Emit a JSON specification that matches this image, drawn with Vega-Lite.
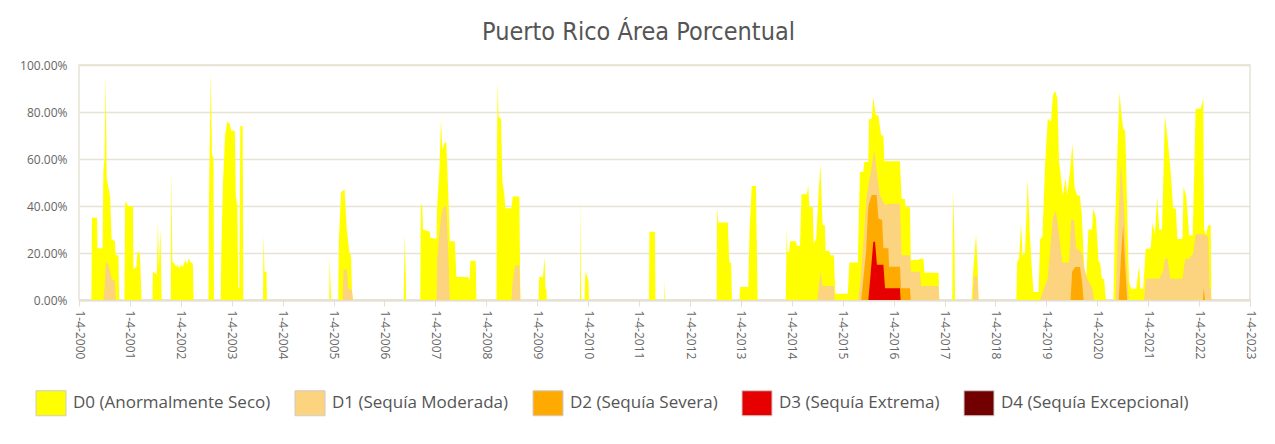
{
"$schema": "https://vega.github.io/schema/vega-lite/v6.json",
"width": 1171, "height": 235,
"autosize": {"type": "none"},
"padding": {"left": 79, "top": 65, "right": 25, "bottom": 144},
"background": "white",
"title": {"text": "Puerto Rico Área Porcentual", "font": "DejaVu Sans Condensed, Liberation Sans Narrow, sans-serif", "fontSize": 25, "fontWeight": "normal", "color": "#555555", "anchor": "middle", "frame": "group", "dx": -26, "offset": 14},
"datasets": {
"D0": [
{"d":"2000-06-29","v":0},{"d":"2000-07-03","v":35},{"d":"2000-08-08","v":35},{"d":"2000-08-12","v":22},{"d":"2000-09-17","v":22},{"d":"2000-09-23","v":55},{"d":"2000-10-01","v":60},{"d":"2000-10-10","v":95.6},{"d":"2000-10-17","v":52},{"d":"2000-10-29","v":48},{"d":"2000-11-10","v":44},{"d":"2000-11-21","v":26},{"d":"2000-12-15","v":25},{"d":"2000-12-20","v":19},{"d":"2001-01-09","v":19},{"d":"2001-01-14","v":0},
{"d":"2001-02-21","v":0},{"d":"2001-02-26","v":42},{"d":"2001-03-20","v":40},{"d":"2001-04-23","v":40},{"d":"2001-04-26","v":13.3},{"d":"2001-05-18","v":14},{"d":"2001-05-25","v":20.4},{"d":"2001-06-12","v":20},{"d":"2001-06-24","v":0},
{"d":"2001-09-10","v":0},{"d":"2001-09-13","v":12},{"d":"2001-10-12","v":11},{"d":"2001-10-19","v":34},{"d":"2001-10-26","v":14},{"d":"2001-11-06","v":30},{"d":"2001-11-15","v":0},
{"d":"2002-01-19","v":0},{"d":"2002-01-23","v":56},{"d":"2002-01-31","v":16},{"d":"2002-02-09","v":16},{"d":"2002-02-19","v":15},{"d":"2002-03-01","v":14},{"d":"2002-03-11","v":15},{"d":"2002-03-22","v":13.5},{"d":"2002-04-02","v":15},{"d":"2002-04-16","v":14},{"d":"2002-04-27","v":16},{"d":"2002-05-08","v":17},{"d":"2002-05-18","v":15},{"d":"2002-05-29","v":18},{"d":"2002-06-09","v":16},{"d":"2002-06-20","v":16},{"d":"2002-06-27","v":15},{"d":"2002-07-02","v":0},
{"d":"2002-10-17","v":0},{"d":"2002-10-20","v":40},{"d":"2002-11-02","v":97},{"d":"2002-11-11","v":62},{"d":"2002-11-22","v":60},{"d":"2002-11-25","v":0},
{"d":"2003-01-13","v":0},{"d":"2003-01-17","v":20},{"d":"2003-01-29","v":50},{"d":"2003-02-13","v":70},{"d":"2003-03-01","v":76},{"d":"2003-03-19","v":75},{"d":"2003-03-29","v":72},{"d":"2003-04-24","v":72},{"d":"2003-05-01","v":44},{"d":"2003-05-12","v":40},{"d":"2003-05-18","v":5},{"d":"2003-05-26","v":5},{"d":"2003-06-02","v":74},{"d":"2003-06-19","v":74},{"d":"2003-06-24","v":0},
{"d":"2003-11-12","v":0},{"d":"2003-11-15","v":28},{"d":"2003-11-23","v":12},{"d":"2003-12-07","v":12},{"d":"2003-12-10","v":0},
{"d":"2005-03-01","v":0},{"d":"2005-03-04","v":17.6},{"d":"2005-03-11","v":6},{"d":"2005-03-14","v":0},
{"d":"2005-05-05","v":0},{"d":"2005-05-09","v":25},{"d":"2005-05-25","v":46},{"d":"2005-06-19","v":47},{"d":"2005-07-05","v":30},{"d":"2005-07-24","v":20},{"d":"2005-08-04","v":19},{"d":"2005-08-11","v":4},{"d":"2005-08-18","v":0},
{"d":"2006-08-17","v":0},{"d":"2006-08-24","v":28},{"d":"2006-09-01","v":10},{"d":"2006-09-04","v":0},
{"d":"2006-12-14","v":0},{"d":"2006-12-18","v":41},{"d":"2006-12-28","v":40},{"d":"2007-01-03","v":30},{"d":"2007-02-20","v":29},{"d":"2007-02-26","v":26.5},{"d":"2007-04-10","v":26},{"d":"2007-04-14","v":40},{"d":"2007-04-30","v":55},{"d":"2007-05-12","v":77},{"d":"2007-05-21","v":64},{"d":"2007-06-06","v":67},{"d":"2007-06-19","v":67},{"d":"2007-07-03","v":45},{"d":"2007-07-14","v":25},{"d":"2007-08-19","v":25},{"d":"2007-08-30","v":9.8},{"d":"2007-11-23","v":9.8},{"d":"2007-12-02","v":8},{"d":"2007-12-09","v":16.7},{"d":"2008-01-16","v":16.7},{"d":"2008-01-21","v":0},
{"d":"2008-06-13","v":0},{"d":"2008-06-16","v":60},{"d":"2008-06-21","v":93},{"d":"2008-06-28","v":78},{"d":"2008-07-15","v":77},{"d":"2008-07-26","v":50},{"d":"2008-08-08","v":45},{"d":"2008-08-15","v":39},{"d":"2008-09-28","v":39},{"d":"2008-10-07","v":44},{"d":"2008-11-24","v":44},{"d":"2008-12-01","v":0},
{"d":"2009-04-11","v":0},{"d":"2009-04-15","v":9.8},{"d":"2009-05-12","v":9.8},{"d":"2009-05-24","v":18.3},{"d":"2009-05-30","v":4.8},{"d":"2009-06-06","v":4.8},{"d":"2009-06-09","v":0},
{"d":"2010-02-02","v":0},{"d":"2010-02-05","v":44.5},{"d":"2010-02-09","v":8},{"d":"2010-02-11","v":0},{"d":"2010-03-07","v":0},{"d":"2010-03-11","v":9.8},{"d":"2010-03-16","v":12},{"d":"2010-04-04","v":8},{"d":"2010-04-07","v":0},
{"d":"2011-06-12","v":0},{"d":"2011-06-15","v":29},{"d":"2011-07-24","v":29},{"d":"2011-07-28","v":0},{"d":"2011-09-27","v":0},{"d":"2011-09-30","v":8.4},{"d":"2011-10-03","v":0},
{"d":"2012-10-09","v":0},{"d":"2012-10-12","v":39},{"d":"2012-10-21","v":33},{"d":"2012-12-28","v":33},{"d":"2013-01-08","v":16},{"d":"2013-01-21","v":16},{"d":"2013-01-27","v":0},
{"d":"2013-03-22","v":0},{"d":"2013-03-25","v":5.5},{"d":"2013-05-24","v":5.5},{"d":"2013-06-02","v":29},{"d":"2013-06-18","v":48.5},{"d":"2013-07-18","v":48.5},{"d":"2013-07-30","v":0},
{"d":"2014-02-17","v":0},{"d":"2014-02-24","v":31},{"d":"2014-03-01","v":20.4},{"d":"2014-03-12","v":20.4},{"d":"2014-03-21","v":25},{"d":"2014-05-01","v":25},{"d":"2014-05-08","v":23},{"d":"2014-05-30","v":23},{"d":"2014-06-10","v":45},{"d":"2014-07-19","v":45},{"d":"2014-07-28","v":48.8},{"d":"2014-08-05","v":39.6},{"d":"2014-08-29","v":39.6},{"d":"2014-09-05","v":24},{"d":"2014-09-23","v":26},{"d":"2014-10-10","v":45},{"d":"2014-10-23","v":58},{"d":"2014-11-08","v":32},{"d":"2014-11-24","v":31.8},{"d":"2014-11-30","v":21},{"d":"2014-12-27","v":21},{"d":"2015-01-02","v":19},{"d":"2015-01-28","v":19},{"d":"2015-02-07","v":2.7},{"d":"2015-05-08","v":2.7},{"d":"2015-05-19","v":16},{"d":"2015-07-19","v":16},
{"d":"2015-07-26","v":35},{"d":"2015-08-03","v":54.5},{"d":"2015-08-27","v":54.5},{"d":"2015-09-04","v":58.7},{"d":"2015-10-02","v":58.7},{"d":"2015-10-07","v":77},{"d":"2015-10-26","v":77},{"d":"2015-11-07","v":86.4},{"d":"2015-11-24","v":78.6},{"d":"2015-12-13","v":78.6},{"d":"2016-01-02","v":70},{"d":"2016-01-18","v":70},{"d":"2016-01-25","v":59},{"d":"2016-05-16","v":59},{"d":"2016-05-28","v":43},{"d":"2016-06-21","v":43},{"d":"2016-06-26","v":39.6},{"d":"2016-07-27","v":39.6},{"d":"2016-08-02","v":17},{"d":"2016-09-26","v":17},{"d":"2016-10-07","v":17.6},{"d":"2016-11-01","v":17.6},{"d":"2016-11-08","v":11.6},{"d":"2017-02-17","v":11.6},{"d":"2017-02-22","v":0},
{"d":"2017-05-26","v":0},{"d":"2017-05-30","v":30},{"d":"2017-06-04","v":46},{"d":"2017-06-12","v":20},{"d":"2017-06-15","v":0},
{"d":"2017-10-12","v":0},{"d":"2017-10-23","v":12},{"d":"2017-11-13","v":28},{"d":"2017-11-24","v":15},{"d":"2017-12-01","v":0},
{"d":"2018-08-29","v":0},{"d":"2018-09-04","v":16},{"d":"2018-09-18","v":18},{"d":"2018-10-02","v":32.5},{"d":"2018-10-12","v":19},{"d":"2018-10-30","v":20},{"d":"2018-11-19","v":51.6},{"d":"2018-12-02","v":30},{"d":"2018-12-16","v":15},{"d":"2018-12-30","v":3.4},{"d":"2019-02-04","v":3.4},{"d":"2019-02-16","v":26},{"d":"2019-03-04","v":27},{"d":"2019-03-22","v":56},{"d":"2019-04-11","v":77},{"d":"2019-05-04","v":76},{"d":"2019-05-18","v":87},{"d":"2019-06-02","v":89},{"d":"2019-06-19","v":86},{"d":"2019-07-01","v":59.4},{"d":"2019-07-15","v":52},{"d":"2019-07-29","v":44.5},{"d":"2019-08-17","v":52},{"d":"2019-08-29","v":44.5},{"d":"2019-09-18","v":55},{"d":"2019-10-05","v":66.5},{"d":"2019-10-20","v":48},{"d":"2019-11-08","v":44.5},{"d":"2019-11-27","v":44.5},{"d":"2019-12-10","v":37.4},{"d":"2019-12-24","v":20},{"d":"2020-01-01","v":10.5},{"d":"2020-01-14","v":10.5},{"d":"2020-01-28","v":30},{"d":"2020-02-22","v":30},{"d":"2020-03-03","v":38.9},{"d":"2020-03-22","v":35},{"d":"2020-04-10","v":16},{"d":"2020-04-21","v":16},{"d":"2020-05-03","v":9},{"d":"2020-05-19","v":9},{"d":"2020-06-01","v":0},
{"d":"2020-07-26","v":0},{"d":"2020-08-03","v":26},{"d":"2020-08-21","v":60},{"d":"2020-09-07","v":88.5},{"d":"2020-09-19","v":80},{"d":"2020-10-03","v":73},{"d":"2020-10-17","v":72},{"d":"2020-10-24","v":60},{"d":"2020-11-08","v":20},{"d":"2020-11-15","v":7.7},{"d":"2020-11-30","v":4.8},{"d":"2021-01-05","v":4.8},{"d":"2021-01-19","v":12},{"d":"2021-01-26","v":14},{"d":"2021-02-03","v":4.8},{"d":"2021-02-24","v":4.8},{"d":"2021-03-14","v":21.8},{"d":"2021-04-19","v":21.8},{"d":"2021-05-02","v":33},{"d":"2021-05-19","v":28},{"d":"2021-06-05","v":43.8},{"d":"2021-06-18","v":30},{"d":"2021-07-09","v":30},{"d":"2021-07-30","v":78.6},{"d":"2021-08-18","v":68.6},{"d":"2021-09-09","v":54.5},{"d":"2021-09-27","v":38.9},{"d":"2021-10-16","v":38.9},{"d":"2021-10-27","v":26},{"d":"2021-12-03","v":26},{"d":"2021-12-10","v":48},{"d":"2021-12-29","v":44.5},{"d":"2022-01-20","v":27.5},{"d":"2022-02-14","v":27.5},{"d":"2022-03-07","v":81.4},{"d":"2022-04-13","v":81.4},{"d":"2022-05-01","v":86},{"d":"2022-05-06","v":30},{"d":"2022-05-20","v":28},{"d":"2022-06-06","v":31.8},{"d":"2022-06-23","v":31.8},{"d":"2022-06-28","v":0}
],
"D1": [
{"d":"2000-09-23","v":0},{"d":"2000-10-01","v":5},{"d":"2000-10-10","v":16},{"d":"2000-10-17","v":16},{"d":"2000-10-29","v":15},{"d":"2000-11-10","v":12},{"d":"2000-11-21","v":9},{"d":"2000-12-15","v":8},{"d":"2000-12-20","v":0},
{"d":"2005-06-05","v":0},{"d":"2005-06-12","v":13},{"d":"2005-07-05","v":13},{"d":"2005-07-16","v":5},{"d":"2005-08-11","v":4},{"d":"2005-08-18","v":0},
{"d":"2007-04-10","v":0},{"d":"2007-04-14","v":17},{"d":"2007-04-30","v":28},{"d":"2007-05-12","v":35},{"d":"2007-05-21","v":38},{"d":"2007-06-06","v":40},{"d":"2007-06-19","v":40},{"d":"2007-07-03","v":20},{"d":"2007-07-14","v":0},
{"d":"2008-09-28","v":0},{"d":"2008-10-07","v":8},{"d":"2008-10-24","v":14.7},{"d":"2008-11-24","v":14.7},{"d":"2008-12-01","v":0},
{"d":"2014-09-30","v":0},{"d":"2014-10-17","v":8},{"d":"2014-10-23","v":12},{"d":"2014-11-08","v":6},{"d":"2015-01-28","v":6},{"d":"2015-02-03","v":0},
{"d":"2015-07-23","v":0},{"d":"2015-08-10","v":10},{"d":"2015-09-21","v":44.7},{"d":"2015-10-07","v":50},{"d":"2015-11-14","v":63.7},{"d":"2015-12-01","v":55},{"d":"2015-12-24","v":44.7},{"d":"2016-01-30","v":40.4},{"d":"2016-03-05","v":41},{"d":"2016-05-16","v":41},{"d":"2016-05-28","v":19},{"d":"2016-07-27","v":19},{"d":"2016-08-02","v":12},{"d":"2016-10-07","v":12},{"d":"2016-10-14","v":6},{"d":"2017-02-17","v":6},{"d":"2017-02-22","v":0},
{"d":"2017-10-20","v":0},{"d":"2017-10-29","v":10},{"d":"2017-11-21","v":10},{"d":"2017-12-01","v":0},
{"d":"2019-02-16","v":0},{"d":"2019-03-14","v":5},{"d":"2019-04-11","v":9},{"d":"2019-04-27","v":20},{"d":"2019-05-18","v":35},{"d":"2019-06-09","v":38},{"d":"2019-07-01","v":28},{"d":"2019-07-24","v":16},{"d":"2019-09-11","v":16},{"d":"2019-09-26","v":34},{"d":"2019-10-17","v":34},{"d":"2019-11-01","v":22},{"d":"2019-12-15","v":20},{"d":"2019-12-24","v":15},{"d":"2020-01-14","v":10},{"d":"2020-01-28","v":8},{"d":"2020-02-24","v":5},{"d":"2020-03-08","v":0},
{"d":"2020-08-10","v":0},{"d":"2020-08-28","v":30},{"d":"2020-09-17","v":58.7},{"d":"2020-10-03","v":45},{"d":"2020-10-17","v":30},{"d":"2020-11-01","v":10},{"d":"2020-11-12","v":0},
{"d":"2021-03-02","v":0},{"d":"2021-03-16","v":9},{"d":"2021-06-18","v":9},{"d":"2021-07-16","v":12},{"d":"2021-07-30","v":17.6},{"d":"2021-08-18","v":17.6},{"d":"2021-09-05","v":9},{"d":"2021-12-03","v":9},{"d":"2021-12-22","v":17.6},{"d":"2022-01-20","v":17.6},{"d":"2022-02-18","v":20},{"d":"2022-03-07","v":28},{"d":"2022-05-06","v":28},{"d":"2022-06-06","v":27},{"d":"2022-06-15","v":5},{"d":"2022-06-23","v":5},{"d":"2022-06-28","v":0}
],
"D2": [
{"d":"2015-08-12","v":0},{"d":"2015-09-15","v":20},{"d":"2015-10-02","v":40},{"d":"2015-10-26","v":44.7},{"d":"2015-12-01","v":44.7},{"d":"2015-12-13","v":34.7},{"d":"2016-01-09","v":34},{"d":"2016-01-18","v":22},{"d":"2016-02-23","v":22},{"d":"2016-02-28","v":14.2},{"d":"2016-05-16","v":14.2},{"d":"2016-05-23","v":5},{"d":"2016-07-27","v":5},{"d":"2016-08-02","v":0},
{"d":"2019-09-22","v":0},{"d":"2019-10-03","v":12},{"d":"2019-10-24","v":14},{"d":"2019-11-29","v":14},{"d":"2019-12-13","v":8},{"d":"2019-12-24","v":0},
{"d":"2020-09-01","v":0},{"d":"2020-09-19","v":20},{"d":"2020-10-03","v":31.8},{"d":"2020-10-17","v":15},{"d":"2020-11-01","v":0},
{"d":"2022-04-28","v":0},{"d":"2022-05-05","v":5},{"d":"2022-05-13","v":0}
],
"D3": [
{"d":"2015-10-02","v":0},{"d":"2015-10-17","v":10},{"d":"2015-11-07","v":24.8},{"d":"2015-11-19","v":24.8},{"d":"2015-12-03","v":15},{"d":"2016-01-18","v":15},{"d":"2016-01-30","v":5},{"d":"2016-05-16","v":5},{"d":"2016-05-21","v":0}
]
},
"encoding": {
"x": {"field": "d", "type": "temporal",
 "scale": {"domain": [{"year":2000,"month":4,"date":1,"utc":true},{"year":2023,"month":4,"date":1,"utc":true}]},
 "axis": {"title": null, "grid": false, "labelAngle": 90, "labelAlign": "left", "labelBaseline": "middle", "labelExpr": "utcFormat(datum.value, '%-d-%-m-%Y')",
  "values": [{"year":2000,"month":4,"date":1,"utc":true},{"year":2001,"month":4,"date":1,"utc":true},{"year":2002,"month":4,"date":1,"utc":true},{"year":2003,"month":4,"date":1,"utc":true},{"year":2004,"month":4,"date":1,"utc":true},{"year":2005,"month":4,"date":1,"utc":true},{"year":2006,"month":4,"date":1,"utc":true},{"year":2007,"month":4,"date":1,"utc":true},{"year":2008,"month":4,"date":1,"utc":true},{"year":2009,"month":4,"date":1,"utc":true},{"year":2010,"month":4,"date":1,"utc":true},{"year":2011,"month":4,"date":1,"utc":true},{"year":2012,"month":4,"date":1,"utc":true},{"year":2013,"month":4,"date":1,"utc":true},{"year":2014,"month":4,"date":1,"utc":true},{"year":2015,"month":4,"date":1,"utc":true},{"year":2016,"month":4,"date":1,"utc":true},{"year":2017,"month":4,"date":1,"utc":true},{"year":2018,"month":4,"date":1,"utc":true},{"year":2019,"month":4,"date":1,"utc":true},{"year":2020,"month":4,"date":1,"utc":true},{"year":2021,"month":4,"date":1,"utc":true},{"year":2022,"month":4,"date":1,"utc":true},{"year":2023,"month":4,"date":1,"utc":true}],
  "domainColor": "#e3e0cf", "domainWidth": 2, "tickColor": "#e3e0cf", "tickSize": 6, "tickWidth": 1,
  "labelColor": "#666666", "labelFont": "Open Sans", "labelFontSize": 12, "labelPadding": 4, "labelOverlap": false, "labelFlush": false}},
"y": {"field": "v", "type": "quantitative",
 "scale": {"domain": [0, 100], "nice": false},
 "axis": {"title": null, "values": [0,20,40,60,80,100], "labelExpr": "format(datum.value, '.2f') + '%'", "grid": true, "gridColor": "#e6e3d3", "gridWidth": 1.5, "domain": false, "ticks": false,
  "labelColor": "#666666", "labelFont": "Open Sans", "labelFontSize": 12, "labelPadding": 12}}
},
"layer": [
{"data": {"name": "D0"}, "mark": {"type": "area", "interpolate": "linear"},
 "encoding": {"color": {"datum": "D0",
  "scale": {"domain": ["D0","D1","D2","D3","D4"], "range": ["#ffff00","#fcd37f","#ffaa00","#e60000","#730000"]},
  "legend": {"title": null, "orient": "none", "legendX": -41, "legendY": 325, "direction": "horizontal",
   "symbolType": "M-1.2,-1H1.2V1H-1.2Z", "symbolSize": 625, "symbolStrokeColor": "#cccccc", "symbolStrokeWidth": 1, "symbolOpacity": 1,
   "labelFont": "Open Sans", "labelFontSize": 17, "labelColor": "#555555", "labelLimit": 400, "labelOffset": 9, "columnPadding": 22,
   "labelExpr": "{'D0':'D0 (Anormalmente Seco)','D1':'D1 (Sequía Moderada)','D2':'D2 (Sequía Severa)','D3':'D3 (Sequía Extrema)','D4':'D4 (Sequía Excepcional)'}[datum.label]"}}}},
{"data": {"name": "D1"}, "mark": {"type": "area", "interpolate": "linear"}, "encoding": {"color": {"datum": "D1"}}},
{"data": {"name": "D2"}, "mark": {"type": "area", "interpolate": "linear"}, "encoding": {"color": {"datum": "D2"}}},
{"data": {"name": "D3"}, "mark": {"type": "area", "interpolate": "linear"}, "encoding": {"color": {"datum": "D3"}}}
],
"config": {"view": {"stroke": "#e6e3d3", "strokeWidth": 1.5}}
}
